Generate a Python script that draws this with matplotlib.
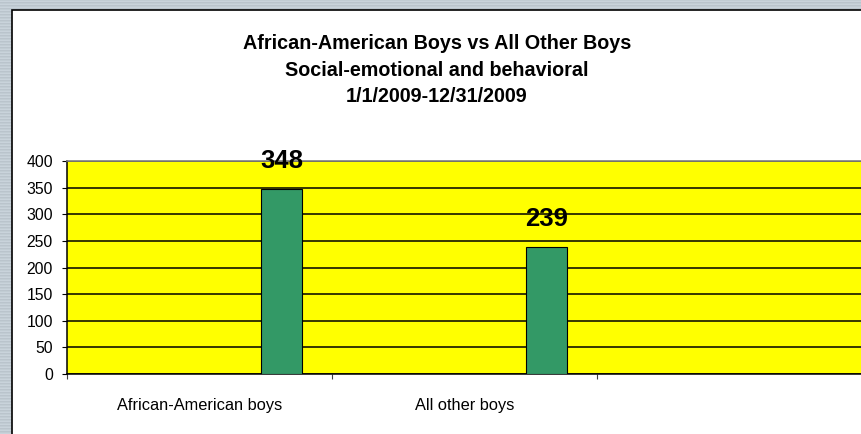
import numpy as np
import matplotlib
matplotlib.use('Agg')
import matplotlib.pyplot as plt
from matplotlib.patches import Rectangle

# chart data
categories = ['African-American boys', 'All other boys']
counts = [348, 239]
title_lines = ['African-American Boys vs All Other Boys',
               'Social-emotional and behavioral',
               '1/1/2009-12/31/2009']
y_ticks = [0, 50, 100, 150, 200, 250, 300, 350, 400]

plt.rcParams['font.family'] = ['Liberation Sans', 'DejaVu Sans']

W, H = 861, 434
fig = plt.figure(figsize=(W / 100, H / 100), dpi=100)

# striped grey-blue frame behind the chart panel
bg = fig.add_axes([0, 0, 1, 1], zorder=-10)
bg.axis('off')
rows = np.array([[0.76, 0.80, 0.83], [0.79, 0.83, 0.86], [0.73, 0.77, 0.80]])
stripes = np.tile(rows, (H // 3 + 1, 1))[:H].reshape(H, 1, 3)
bg.imshow(stripes, aspect='auto', interpolation='nearest')

# white panel with black edge
panel = Rectangle((12 / W, -0.1), 1.0, 1.1 - 10 / H, transform=fig.transFigure,
                  facecolor='white', edgecolor='black', linewidth=1.2, zorder=-5)
fig.patches.append(panel)

# title, one line at a time
for i, line in enumerate(title_lines):
    fig.text(437 / W, 1 - (49 + 26.5 * i) / H, line, ha='center', va='baseline',
             fontsize=14.2, fontweight='bold')

ax = fig.add_axes([67 / W, 60 / H, 795 / W, 213 / H])
ax.set_facecolor('#ffff00')

x = np.arange(len(categories))
offset = 0.31
ax.bar(x + offset, counts, width=0.155, color='#339966', edgecolor='black',
       linewidth=0.8, zorder=3)

for xi, v in zip(x, counts):
    ax.annotate(str(v), (xi + offset, v), xytext=(0, 15), textcoords='offset points',
                ha='center', va='baseline', fontsize=18.5, fontweight='bold')

ax.set_xlim(-0.5, 2.5)
ax.set_ylim(0, 400)
ax.set_yticks(y_ticks)
ax.yaxis.grid(True, color='black', linewidth=1.1)
ax.set_axisbelow(True)

ax.set_xticks([-0.5, 0.5, 1.5, 2.5])
ax.set_xticklabels([])
ax.set_xticks(x, minor=True)
ax.set_xticklabels(categories, minor=True)
ax.tick_params(axis='x', which='major', direction='out', length=3.6, width=0.8, color='#404040')
ax.tick_params(axis='x', which='minor', length=0, pad=17, labelsize=11.8)
ax.tick_params(axis='y', direction='out', length=3.6, width=0.8, pad=6.5, labelsize=11.3)

for side in ['left', 'bottom']:
    ax.spines[side].set_color('black')
    ax.spines[side].set_linewidth(1.1)
ax.spines['top'].set_color('#808080')
ax.spines['top'].set_linewidth(1.2)
ax.spines['right'].set_visible(False)

fig.savefig('out.png', dpi=100)
